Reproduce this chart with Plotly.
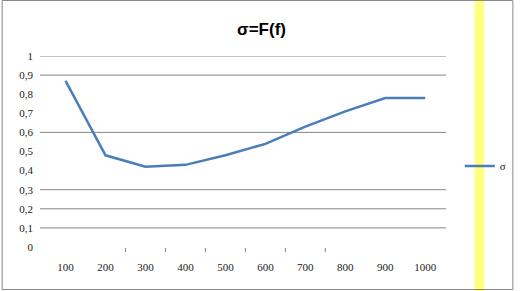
import plotly.graph_objects as go

categories = ["100", "200", "300", "400", "500", "600", "700", "800", "900", "1000"]
sigma = [0.87, 0.48, 0.42, 0.43, 0.48, 0.54, 0.63, 0.71, 0.78, 0.78]
y_ticks = [0, 0.1, 0.2, 0.3, 0.4, 0.5, 0.6, 0.7, 0.8, 0.9, 1]
y_tick_labels = ["0", "0,1", "0,2", "0,3", "0,4", "0,5", "0,6", "0,7", "0,8", "0,9", "1"]
visible_grid = [0.1, 0.2, 0.3, 0.6, 0.9, 1.0]
visible_ticks = [1.5, 2.5, 3.5, 4.5, 5.5, 6.5]

W, H = 523, 291
L, R, T, B = 40, 70, 56, 44
plot_w = W - L - R
plot_h = H - T - B

fig = go.Figure()
fig.add_trace(go.Scatter(
    x=categories, y=sigma, mode="lines", name="σ",
    line=dict(color="#4A7EBB", width=2.5),
))

shapes = []
for g in visible_grid:
    shapes.append(dict(type="line", xref="paper", yref="y", x0=0, x1=1, y0=g, y1=g,
                       line=dict(color="#868686", width=1), layer="below"))
for t in visible_ticks:
    shapes.append(dict(type="line", xref="x", yref="paper", x0=t, x1=t, y0=-1 / plot_h, y1=-5 / plot_h,
                       line=dict(color="#868686", width=1)))
# yellow vertical band
shapes.append(dict(type="rect", xref="paper", yref="paper",
                   x0=(482 - L) / plot_w, x1=(492 - L) / plot_w,
                   y0=-B / plot_h, y1=1 + T / plot_h,
                   fillcolor="#FFFF80", line=dict(width=0), layer="below"))
# outer border
shapes.append(dict(type="rect", xref="paper", yref="paper",
                   x0=(1.5 - L) / plot_w, x1=(521 - L) / plot_w,
                   y0=-(B - 1.5) / plot_h, y1=1 + (T - 0.5) / plot_h,
                   fillcolor="rgba(0,0,0,0)", line=dict(color="#888888", width=1)))

fig.update_layout(
    width=W, height=H,
    margin=dict(l=L, r=R, t=T, b=B),
    paper_bgcolor="white", plot_bgcolor="white",
    title=dict(text="<b>σ=F(f)</b>", x=(261.5) / W, xanchor="center", y=1 - 29 / H, yanchor="middle",
               font=dict(family="Liberation Sans", size=17, color="black")),
    xaxis=dict(type="category", range=[-0.64, 9.52], showgrid=False, zeroline=False, showline=False,
               ticks="", tickfont=dict(family="Liberation Serif", size=11, color="#222222"),
               ticklabelstandoff=12),
    yaxis=dict(range=[0, 1], tickvals=y_ticks, ticktext=y_tick_labels, showgrid=False,
               zeroline=False, showline=False, ticks="",
               tickfont=dict(family="Liberation Serif", size=11, color="#222222"),
               ticklabelstandoff=6),
    showlegend=True,
    legend=dict(x=(467 - L) / plot_w, xanchor="left", y=(247 - 166) / plot_h, yanchor="middle",
                font=dict(family="Liberation Serif", size=11, color="#222222"),
                bgcolor="rgba(0,0,0,0)", borderwidth=0, itemwidth=30),
    shapes=shapes,
)

fig.write_html("out.html")
